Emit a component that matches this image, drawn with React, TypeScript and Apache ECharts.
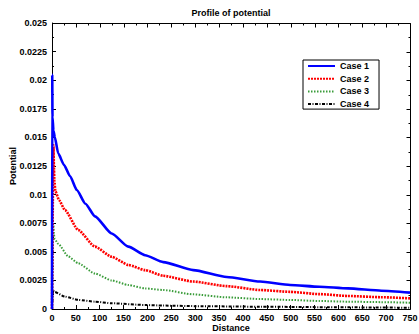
import React, { useEffect, useRef } from "react";
import * as echarts from "echarts";

// Distance samples and potential readings for each case
const case1Distance = [0, 0.5, 1, 3, 6, 13, 25, 38, 52, 70, 90, 125, 160, 195, 233, 296, 366, 436, 499, 560, 620, 690, 750];
const case1Potential = [0, 0.0205, 0.0168, 0.0156, 0.015, 0.0136, 0.0126, 0.0116, 0.0104, 0.0092, 0.0081, 0.0066, 0.00545, 0.0047, 0.0041, 0.0034, 0.0028, 0.0024, 0.0021, 0.00195, 0.0018, 0.0016, 0.00143];

const case2Distance = [0, 3, 4, 5, 7, 15, 27, 55, 90, 125, 160, 195, 233, 296, 366, 436, 499, 560, 620, 690, 750];
const case2Potential = [0, 0.0143, 0.0125, 0.0112, 0.0103, 0.0095, 0.00865, 0.0069, 0.00545, 0.00457, 0.00385, 0.0034, 0.0029, 0.0024, 0.002, 0.00166, 0.0015, 0.0013, 0.00114, 0.00103, 0.00093];

const case3Distance = [0, 3, 4, 6, 13, 34, 55, 90, 125, 160, 195, 233, 296, 366, 436, 499, 560, 620, 690, 750];
const case3Potential = [0, 0.0073, 0.0065, 0.0061, 0.0057, 0.0046, 0.004, 0.0031, 0.0025, 0.0021, 0.0018, 0.00166, 0.00128, 0.00102, 0.00087, 0.00079, 0.0007, 0.00064, 0.0006, 0.00055];

const case4Distance = [0, 2.5, 5, 27, 55, 90, 125, 195, 233, 300, 436, 600, 750];
const case4Potential = [0, 0.0016, 0.0015, 0.00108, 0.0008, 0.00064, 0.0005, 0.00035, 0.0003, 0.00025, 0.0002, 0.00015, 0.00011];

const seriesNames = ["Case 1", "Case 2", "Case 3", "Case 4"];

// Axis ranges and tick steps
const xMin = 0;
const xMax = 750;
const xStep = 50;
const yMin = 0;
const yMax = 0.025;
const yStep = 0.0025;

const font = "Liberation Sans, Arial, Helvetica, sans-serif";

const pairs = (xs: number[], ys: number[]) => xs.map((x, i) => [x, ys[i]]);

export default function App() {
  const ref = useRef<HTMLDivElement>(null);

  useEffect(() => {
    if (!ref.current) return;
    const chart = echarts.init(ref.current, null, { renderer: "svg" });

    const tickCommon = {
      show: true,
      axisLine: { show: true, onZero: false, lineStyle: { color: "#000", width: 1 } },
      axisTick: { show: true, inside: true, length: 4, lineStyle: { color: "#000" } },
      minorTick: { show: true, splitNumber: 2, length: 2, lineStyle: { color: "#000" } },
      splitLine: { show: false },
    };

    const line = (name: string, data: number[][], color: string, width: number, type: any, z: number) => ({
      name,
      type: "line",
      data,
      symbol: "none",
      showSymbol: false,
      smooth: 0.2,
      smoothMonotone: "x",
      z,
      lineStyle: { color, width, type },
      itemStyle: { color },
    });

    chart.setOption({
      animation: false,
      backgroundColor: "#fff",
      title: {
        text: "Profile of potential",
        left: 231,
        textAlign: "center",
        top: 8,
        padding: 0,
        textStyle: { fontFamily: font, fontSize: 9, fontWeight: "bold", color: "#000" },
      },
      grid: { left: 52, right: 9, top: 23, bottom: 25, containLabel: false, outerBoundsMode: "none" },
      legend: {
        data: seriesNames,
        orient: "vertical",
        left: 303,
        top: 60,
        itemWidth: 27,
        itemHeight: 8,
        itemGap: 2.7,
        padding: [1, 10, 0, 4],
        backgroundColor: "#fff",
        borderColor: "#000",
        borderWidth: 1,
        borderRadius: 0,
        itemStyle: { opacity: 0 },
        textStyle: { fontFamily: font, fontSize: 9, fontWeight: "bold", color: "#000", lineHeight: 10 },
      },
      xAxis: {
        type: "value",
        min: xMin,
        max: xMax,
        interval: xStep,
        name: "Distance",
        nameLocation: "middle",
        nameGap: 14,
        nameMoveOverlap: false,
        nameTextStyle: { fontFamily: font, fontSize: 9, fontWeight: "bold", color: "#000", lineHeight: 9 },
        axisLabel: { fontFamily: font, fontSize: 9, fontWeight: "bold", color: "#000", margin: 4, lineHeight: 9 },
        ...tickCommon,
      },
      yAxis: {
        type: "value",
        min: yMin,
        max: yMax,
        interval: yStep,
        name: "Potential",
        nameLocation: "middle",
        nameGap: 35,
        nameMoveOverlap: false,
        nameTextStyle: { fontFamily: font, fontSize: 9, fontWeight: "bold", color: "#000" },
        axisLabel: { fontFamily: font, fontSize: 9, fontWeight: "bold", color: "#000", margin: 5 },
        ...tickCommon,
      },
      series: [
        line("Case 1", pairs(case1Distance, case1Potential), "#0000ff", 2.6, "solid", 4),
        line("Case 2", pairs(case2Distance, case2Potential), "#ff0000", 2.6, [2, 1], 3),
        line("Case 3", pairs(case3Distance, case3Potential), "#3a9c3a", 2, [1.5, 1.5], 2),
        line("Case 4", pairs(case4Distance, case4Potential), "#000000", 2, [3, 1.5, 1, 1.5], 1),
      ],
    });

    // Mirrored frame along the top and right edges, with inward ticks placed through the axis scales
    const toPx = (x: number, y: number) => chart.convertToPixel({ gridIndex: 0 }, [x, y]) as number[];
    const [left, top] = toPx(xMin, yMax);
    const [right, bottom] = toPx(xMax, yMin);
    const snap = (v: number) => Math.round(v) + 0.5;
    const frameStyle = { stroke: "#000", lineWidth: 1 };
    const elements: any[] = [
      { type: "line", z: 50, shape: { x1: snap(left), y1: snap(top), x2: snap(right), y2: snap(top) }, style: frameStyle },
      { type: "line", z: 50, shape: { x1: snap(right), y1: snap(top), x2: snap(right), y2: snap(bottom) }, style: frameStyle },
    ];
    const xTicks = Math.round((xMax - xMin) / (xStep / 2));
    for (let i = 0; i <= xTicks; i++) {
      const px = snap(toPx(xMin + (i * xStep) / 2, yMax)[0]);
      const len = i % 2 === 0 ? 4 : 2;
      elements.push({ type: "line", z: 50, shape: { x1: px, y1: snap(top), x2: px, y2: snap(top) + len }, style: frameStyle });
    }
    const yTicks = Math.round((yMax - yMin) / (yStep / 2));
    for (let i = 0; i <= yTicks; i++) {
      const py = snap(toPx(xMax, yMin + (i * yStep) / 2)[1]);
      const len = i % 2 === 0 ? 4 : 2;
      elements.push({ type: "line", z: 50, shape: { x1: snap(right), y1: py, x2: snap(right) - len, y2: py }, style: frameStyle });
    }
    chart.setOption({ graphic: { elements } });

    return () => chart.dispose();
  }, []);

  return (
    <div
      ref={ref}
      style={{ position: "fixed", left: 0, top: 0, width: 419, height: 334 }}
    />
  );
}
